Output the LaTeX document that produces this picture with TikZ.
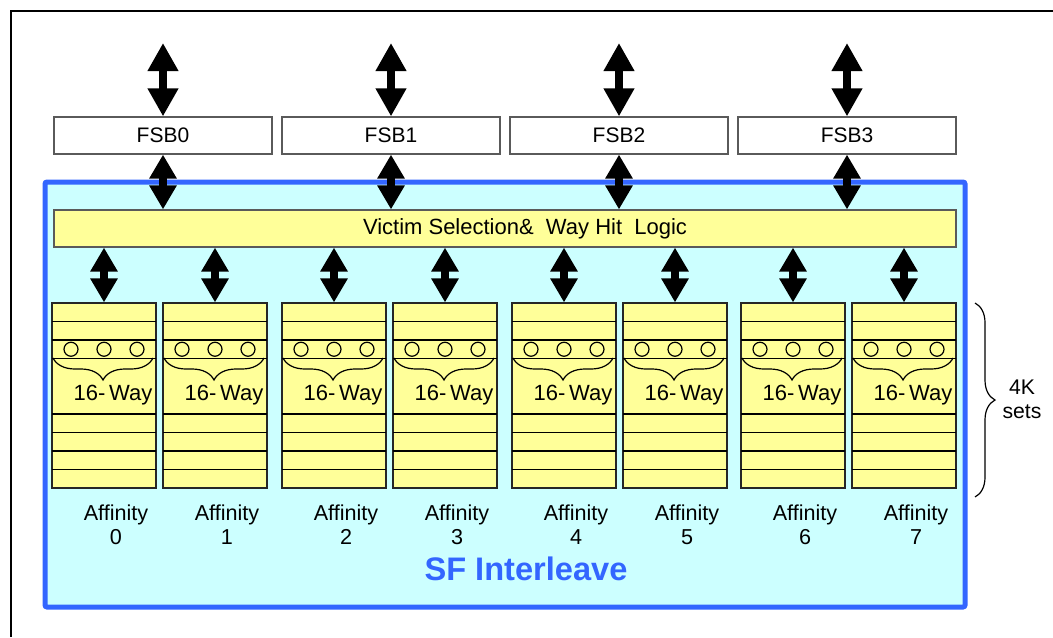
\documentclass[tikz,border=0pt]{standalone}
\usepackage{fontspec}
\setmainfont{Liberation Sans}
\usetikzlibrary{calc,arrows.meta,decorations.pathreplacing,positioning}
\definecolor{sfcyan}{RGB}{204,255,255}
\definecolor{sfblue}{RGB}{51,102,255}
\definecolor{sfyellow}{RGB}{255,255,153}
\definecolor{sfgrey}{RGB}{90,90,90}
\tikzset{
	fsbbox/.style={draw=sfgrey, fill=white, line width=0.6pt, minimum width=109pt, minimum height=18.5pt, inner sep=0pt, font=\fontsize{10.5}{12}\selectfont},
	barbox/.style={draw=sfgrey, fill=sfyellow, line width=0.6pt, minimum width=451pt, minimum height=18.5pt, inner sep=0pt},
	waybox/.style={draw=black!85, fill=sfyellow, line width=0.6pt, minimum width=52pt, minimum height=92.5pt, inner sep=0pt},
	busarrow/.style={line width=3.8pt, {Triangle[width=14.5pt,length=14pt]}-{Triangle[width=14.5pt,length=14pt]}},
	linkarrow/.style={line width=3.8pt, {Triangle[width=13pt,length=12pt]}-{Triangle[width=13pt,length=12pt]}},
	curly/.style={decorate, line width=0.6pt}
}

\begin{document}
\begin{tikzpicture}[x=0.5pt,y=-0.5pt]
	\useasboundingbox (0,0) rectangle (1053,637);
	
	\draw[line width=1pt] (11,637) -- (11,11) -- (1053,11);
	\draw[sfblue, line width=2.5pt, fill=sfcyan, rounded corners=1pt] (45,182) rectangle (965,607);
	
	\node[barbox] (vsel) at (505,228.5) {};
	\node[font=\fontsize{11}{12}\selectfont] at (525,228.5) {Victim Selection\&\ \ Way Hit\ \ Logic};
	
	\foreach \i/\x in {0/163,1/391,2/619,3/847} {
		\coordinate (bus\i) at (\x,43);
		\node[fsbbox] (fsb\i) at (\x,135.5) {FSB\i};
		\draw[busarrow] (bus\i) -- (fsb\i.north);
		\draw[linkarrow] (fsb\i.south) -- (fsb\i.south |- vsel.north);
	}
	
	\foreach \i/\x in {0/52,1/163,2/282,3/393,4/512,5/623,6/741,7/852} {
		\node[waybox] (aff\i) at (\x+52,395.5) {};
		\foreach \k in {1,2,3,6,7,8,9}
			\draw[line width=0.6pt] (\x,303+18.5*\k) -- (\x+104,303+18.5*\k);
		\foreach \d in {-33,0,33}
			\draw[line width=0.6pt] (\x+52+\d,349.25) circle[radius=3.5pt];
		\draw[curly, decoration={brace, amplitude=11pt}] (\x+101,358) -- (\x+1,358);
		\node[font=\fontsize{11}{12}\selectfont] at (\x+61,395) {16-\,Way};
		\node[font=\fontsize{10.8}{12}\selectfont, align=center] at (\x+64,525) {Affinity\\\i};
		\draw[linkarrow] (vsel.south -| aff\i.north) -- (aff\i.north);
	}
	
	\draw[curly, decoration={brace, amplitude=10pt}] (975,303) -- (975,497);
	\node[font=\fontsize{10.6}{12}\selectfont, align=center] (sets) at (1022,399) {4K\\sets};
	
	\node[font=\fontsize{16.3}{18}\selectfont\bfseries, text=sfblue] at (526,569) {SF Interleave};
\end{tikzpicture}
\end{document}
